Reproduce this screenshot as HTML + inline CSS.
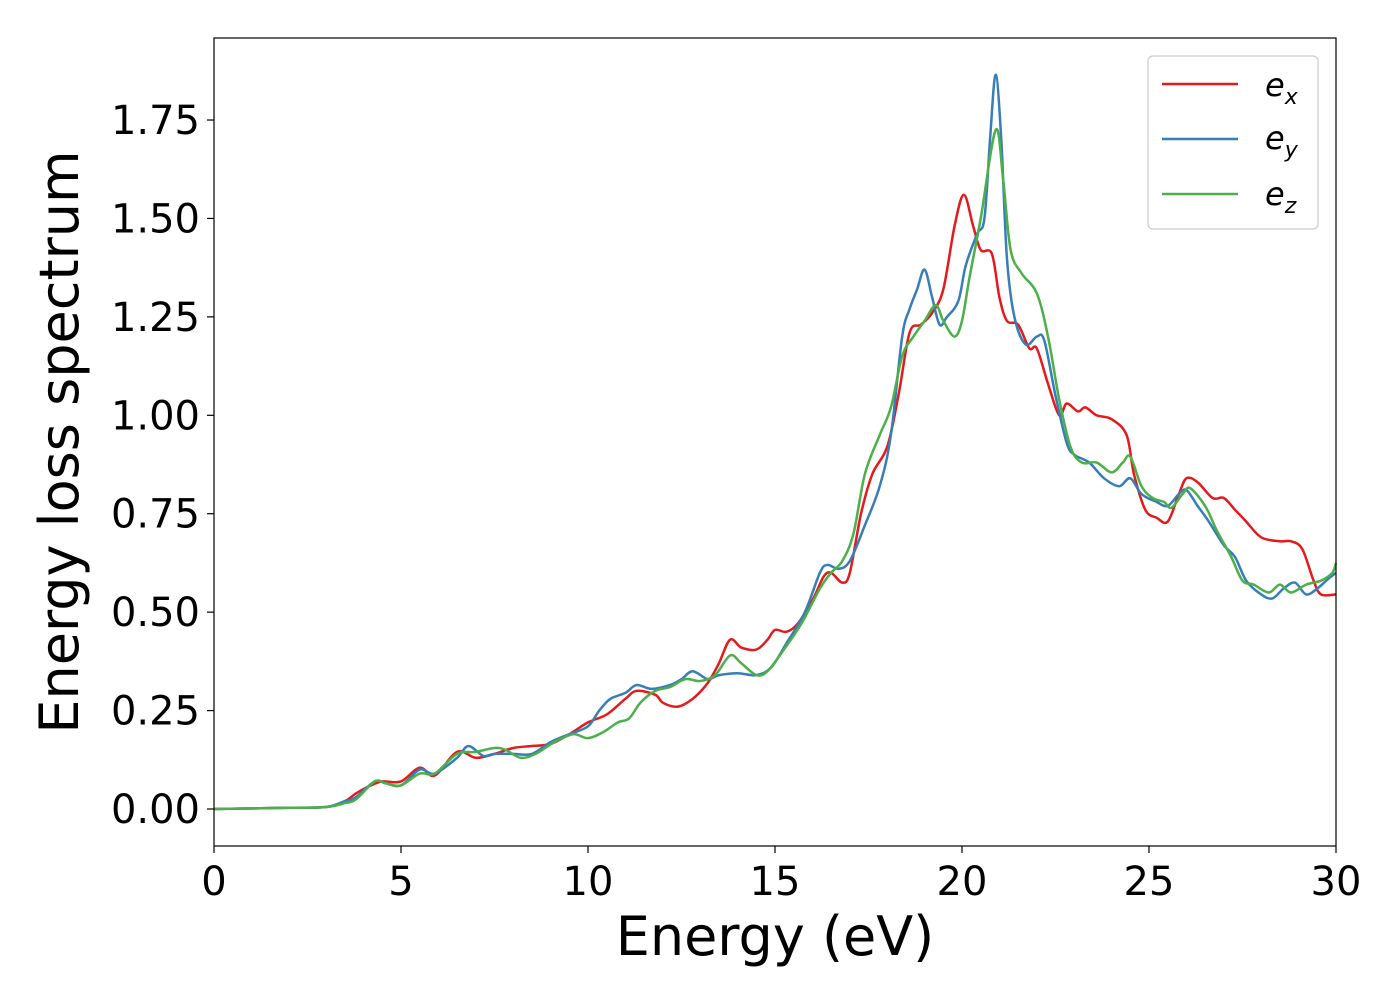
<!DOCTYPE html>
<html><head><meta charset="utf-8"><style>
body{margin:0;background:#fff;}
svg text{font-family:"DejaVu Sans","Liberation Sans",sans-serif;fill:#000;}
</style></head><body>
<svg id="chart" width="1400" height="1000" viewBox="0 0 1400 1000" xmlns="http://www.w3.org/2000/svg">
<rect x="0" y="0" width="1400" height="1000" fill="#fff"/>
<g id="lines"></g>
<rect x="214" y="38" width="1122" height="808" fill="none" stroke="#000" stroke-width="1.2"/>
<g id="xticks"></g>
<g id="yticks"></g>
<text x="775" y="955" font-size="54" text-anchor="middle">Energy (eV)</text>
<text transform="translate(78,442) rotate(-90)" font-size="54" text-anchor="middle">Energy loss spectrum</text>
<g>
<rect x="1148" y="56" width="170" height="173" rx="5" fill="#fff" stroke="#ccc" stroke-width="1.2"/>
<line x1="1162" y1="84" x2="1238" y2="84" stroke="#e41a1c" stroke-width="2.5"/>
<text x="1265" y="96" font-size="32" font-style="italic">e<tspan font-size="22" dy="8">x</tspan></text>
<line x1="1162" y1="139" x2="1238" y2="139" stroke="#377eb8" stroke-width="2.5"/>
<text x="1265" y="149" font-size="32" font-style="italic">e<tspan font-size="22" dy="8">y</tspan></text>
<line x1="1162" y1="194" x2="1238" y2="194" stroke="#4daf4a" stroke-width="2.5"/>
<text x="1265" y="205" font-size="32" font-style="italic">e<tspan font-size="22" dy="8">z</tspan></text>
</g>
</svg>
<script>
const xTicks=[0,5,10,15,20,25,30];
const yTicks=[0,0.25,0.5,0.75,1.0,1.25,1.5,1.75];
const exX=[0,2,3,3.5,3.8,4.2,4.5,5,5.5,5.9,6.5,7,7.5,8,8.5,9,9.5,10,10.5,11,11.3,11.8,12,12.4,12.8,13.2,13.5,13.8,14.1,14.5,14.8,15,15.3,15.6,16,16.3,16.5,16.8,17,17.3,17.6,18,18.3,18.6,18.9,19.2,19.5,19.8,20.05,20.3,20.5,20.8,21,21.2,21.5,21.8,22,22.3,22.6,22.8,23.1,23.3,23.6,24,24.4,24.6,24.9,25.2,25.5,25.8,26,26.3,26.7,27,27.3,27.6,28,28.5,28.8,29.1,29.4,29.6,30];
const exY=[0,0.003,0.005,0.02,0.04,0.06,0.07,0.07,0.105,0.085,0.145,0.13,0.14,0.155,0.16,0.165,0.19,0.22,0.24,0.28,0.30,0.29,0.27,0.26,0.28,0.32,0.37,0.43,0.41,0.405,0.43,0.455,0.45,0.47,0.53,0.59,0.60,0.575,0.60,0.75,0.85,0.92,1.05,1.21,1.23,1.26,1.32,1.48,1.56,1.48,1.42,1.41,1.30,1.24,1.23,1.17,1.17,1.08,1.00,1.03,1.01,1.02,1.00,0.99,0.95,0.85,0.76,0.74,0.73,0.80,0.84,0.83,0.79,0.79,0.76,0.73,0.69,0.68,0.68,0.66,0.58,0.545,0.545];
const eyX=[0,2,3,3.5,3.8,4.3,4.6,5,5.5,5.9,6.5,6.8,7.2,7.5,8,8.5,9,9.5,10,10.3,10.6,11,11.3,11.7,12.2,12.5,12.8,13.2,13.5,14,14.5,14.9,15.3,15.8,16.2,16.4,16.7,17,17.4,17.8,18.1,18.4,18.6,18.8,19,19.2,19.4,19.6,19.9,20.1,20.4,20.6,20.75,20.9,21.05,21.2,21.4,21.7,22,22.2,22.5,22.8,23,23.4,23.8,24.2,24.5,24.8,25.2,25.5,25.8,26,26.3,26.6,27,27.3,27.6,28,28.3,28.6,28.9,29.2,29.5,29.8,30];
const eyY=[0,0.003,0.005,0.02,0.03,0.07,0.065,0.06,0.10,0.09,0.13,0.16,0.135,0.14,0.14,0.14,0.17,0.19,0.21,0.25,0.28,0.295,0.315,0.305,0.315,0.33,0.35,0.33,0.34,0.345,0.34,0.36,0.42,0.50,0.60,0.62,0.61,0.63,0.72,0.82,0.95,1.20,1.27,1.32,1.37,1.30,1.23,1.25,1.29,1.38,1.46,1.50,1.70,1.865,1.70,1.40,1.25,1.18,1.20,1.19,1.05,0.93,0.90,0.88,0.84,0.82,0.84,0.80,0.78,0.77,0.80,0.81,0.77,0.73,0.67,0.64,0.58,0.545,0.535,0.56,0.575,0.545,0.56,0.585,0.60];
const ezX=[0,2,3,3.5,3.8,4.3,4.6,5,5.5,5.9,6.5,7,7.5,7.8,8.2,8.6,9.1,9.6,10,10.4,10.8,11.1,11.4,11.8,12.2,12.6,13,13.4,13.8,14.1,14.5,14.8,15.2,15.7,16.2,16.5,16.8,17.1,17.4,17.8,18.1,18.4,18.7,19,19.3,19.5,19.8,20,20.2,20.5,20.9,21.1,21.3,21.6,22,22.3,22.6,22.9,23.2,23.6,24,24.3,24.5,24.8,25.1,25.4,25.6,25.9,26.1,26.5,26.8,27.2,27.5,27.8,28.2,28.5,28.8,29.2,29.6,29.9,30];
const ezY=[0,0.003,0.005,0.015,0.025,0.07,0.065,0.06,0.09,0.09,0.14,0.145,0.155,0.15,0.13,0.14,0.17,0.19,0.18,0.195,0.22,0.23,0.27,0.30,0.31,0.33,0.325,0.34,0.39,0.37,0.34,0.35,0.40,0.47,0.56,0.60,0.63,0.70,0.85,0.95,1.02,1.15,1.20,1.24,1.28,1.24,1.20,1.24,1.35,1.50,1.725,1.60,1.42,1.36,1.31,1.20,1.04,0.92,0.88,0.88,0.855,0.88,0.895,0.82,0.79,0.78,0.765,0.80,0.815,0.77,0.71,0.64,0.58,0.57,0.55,0.57,0.55,0.57,0.58,0.60,0.625];
const NS="http://www.w3.org/2000/svg";
const X0=214,X1=1336,Y0=809,YS=393.7;
function sx(v){return X0+(v/30)*(X1-X0);}
function sy(v){return Y0-v*YS;}
function pathFor(xs,ys){
  const p=xs.map((x,i)=>[sx(x),sy(ys[i])]);
  let d="M"+p[0][0].toFixed(1)+","+p[0][1].toFixed(1);
  for(let i=0;i<p.length-1;i++){
    const a=p[Math.max(0,i-1)],b=p[i],c=p[i+1],e=p[Math.min(p.length-1,i+2)];
    const c1=[b[0]+(c[0]-a[0])/6,b[1]+(c[1]-a[1])/6],c2=[c[0]-(e[0]-b[0])/6,c[1]-(e[1]-b[1])/6];
    d+=" C"+c1[0].toFixed(1)+","+c1[1].toFixed(1)+" "+c2[0].toFixed(1)+","+c2[1].toFixed(1)+" "+c[0].toFixed(1)+","+c[1].toFixed(1);
  }
  return d;
}
const lines=document.getElementById("lines");
[[exX,exY,"#e41a1c","line-ex"],[eyX,eyY,"#377eb8","line-ey"],[ezX,ezY,"#4daf4a","line-ez"]].forEach(s=>{
  const el=document.createElementNS(NS,"path");
  el.setAttribute("d",pathFor(s[0],s[1]));
  el.setAttribute("fill","none");el.setAttribute("stroke",s[2]);el.setAttribute("stroke-width","2.5");
  
  
  lines.appendChild(el);
});
const xg=document.getElementById("xticks");
xTicks.forEach(v=>{
  const t=document.createElementNS(NS,"line");
  t.setAttribute("x1",sx(v));t.setAttribute("x2",sx(v));t.setAttribute("y1",846);t.setAttribute("y2",853);t.setAttribute("stroke","#000");t.setAttribute("stroke-width","1.2");
  
  
  xg.appendChild(t);
  const l=document.createElementNS(NS,"text");
  l.setAttribute("x",sx(v));l.setAttribute("y",895);l.setAttribute("font-size","40");l.setAttribute("text-anchor","middle");
  l.textContent=v;
  
  
  xg.appendChild(l);
});
const yg=document.getElementById("yticks");
yTicks.forEach(v=>{
  const t=document.createElementNS(NS,"line");
  t.setAttribute("x1",207);t.setAttribute("x2",214);t.setAttribute("y1",sy(v));t.setAttribute("y2",sy(v));t.setAttribute("stroke","#000");t.setAttribute("stroke-width","1.2");
  
  
  yg.appendChild(t);
  const l=document.createElementNS(NS,"text");
  l.setAttribute("x",200);l.setAttribute("y",sy(v)+14);l.setAttribute("font-size","40");l.setAttribute("text-anchor","end");
  l.textContent=v.toFixed(2);
  
  
  yg.appendChild(l);
});
</script>
</body></html>
